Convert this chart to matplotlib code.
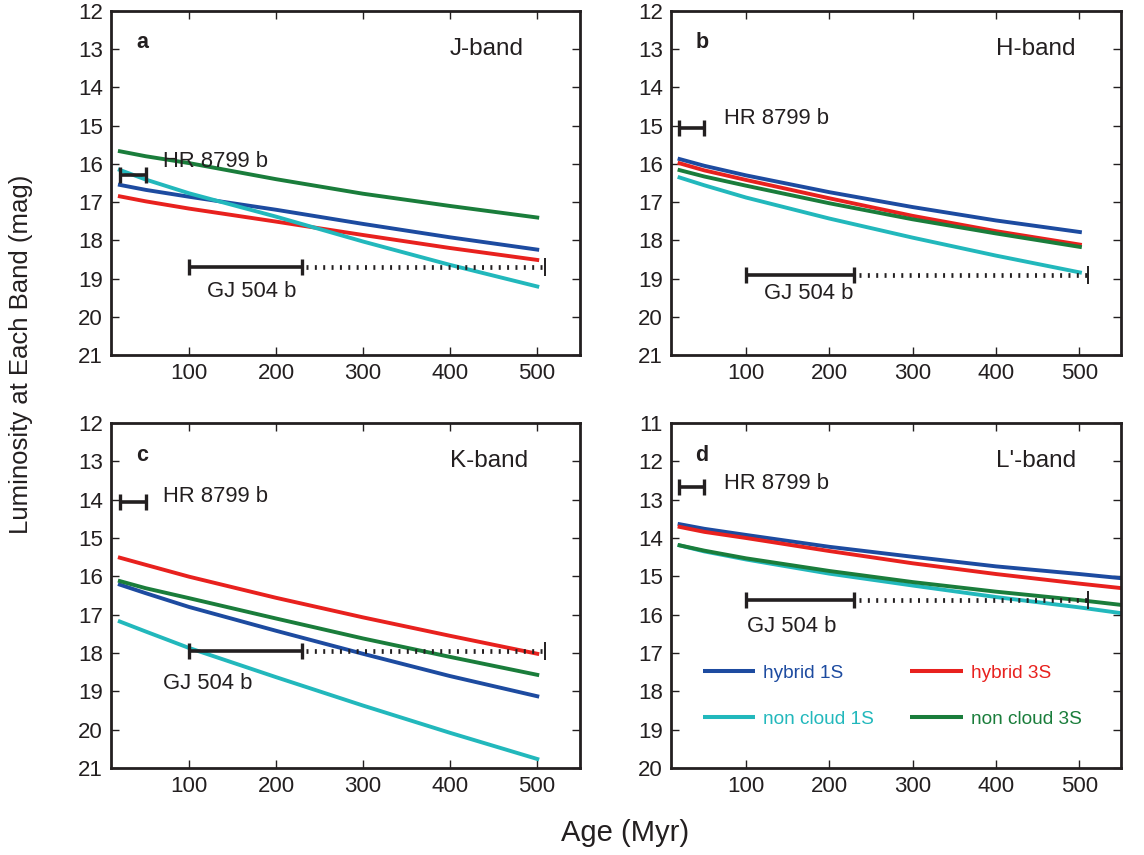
import matplotlib
matplotlib.use("Agg")
import matplotlib.pyplot as plt

plt.rcParams['font.family'] = ['Liberation Sans', 'DejaVu Sans']

# ---------------- data ----------------
ages = [18, 50, 100, 200, 300, 400, 503]
ages_d = [18, 50, 100, 200, 300, 400, 500, 560]

# J band
j_hybrid1 = [16.54, 16.68, 16.86, 17.20, 17.57, 17.92, 18.25]
j_hybrid3 = [16.84, 16.98, 17.17, 17.51, 17.86, 18.20, 18.52]
j_non1 = [16.14, 16.41, 16.77, 17.38, 18.03, 18.64, 19.22]
j_non3 = [15.66, 15.80, 15.98, 16.40, 16.78, 17.10, 17.41]
# H band
h_hybrid1 = [15.86, 16.05, 16.30, 16.74, 17.13, 17.48, 17.79]
h_hybrid3 = [15.97, 16.17, 16.42, 16.90, 17.36, 17.76, 18.12]
h_non1 = [16.34, 16.56, 16.88, 17.43, 17.93, 18.40, 18.85]
h_non3 = [16.15, 16.33, 16.57, 17.03, 17.45, 17.82, 18.18]
# K band
k_hybrid1 = [16.20, 16.44, 16.80, 17.42, 18.02, 18.60, 19.14]
k_hybrid3 = [15.50, 15.70, 16.01, 16.56, 17.07, 17.55, 18.03]
k_non1 = [17.16, 17.44, 17.87, 18.63, 19.37, 20.08, 20.78]
k_non3 = [16.11, 16.31, 16.57, 17.10, 17.62, 18.10, 18.58]
# L' band
l_hybrid1 = [13.63, 13.76, 13.92, 14.23, 14.49, 14.74, 14.94, 15.07]
l_hybrid3 = [13.70, 13.84, 14.00, 14.34, 14.66, 14.94, 15.19, 15.33]
l_non1 = [14.18, 14.35, 14.56, 14.93, 15.24, 15.54, 15.81, 15.99]
l_non3 = [14.18, 14.33, 14.53, 14.86, 15.15, 15.40, 15.62, 15.77]

# observed planets
hr_age = [20, 50]
hr_mag = [16.30, 15.05, 14.05, 12.67]
gj_age = [100, 230]
gj_age_max = 510
gj_mag = [18.69, 18.92, 17.94, 15.63]

band_names = ['J-band', 'H-band', 'K-band', "L'-band"]
panel_letters = ['a', 'b', 'c', 'd']
ylims = [(21, 12), (21, 12), (21, 12), (20, 11)]
series_labels = ['hybrid 1S', 'hybrid 3S', 'non cloud 1S', 'non cloud 3S']
series_colors = ['#1d4ba0', '#e8211e', '#22b8bc', '#1a7d3b']
xticks = [100, 200, 300, 400, 500]

# text positions (data coords)
hr_text_pos = [(70, 15.95), (73, 14.81), (70, 13.92), (73, 12.59)]
gj_text_pos = [(120, 19.33), (121, 19.39), (70, 18.79), (101, 16.31)]

panels = [
    (ages, [j_hybrid1, j_hybrid3, j_non1, j_non3]),
    (ages, [h_hybrid1, h_hybrid3, h_non1, h_non3]),
    (ages, [k_hybrid1, k_hybrid3, k_non1, k_non3]),
    (ages_d, [l_hybrid1, l_hybrid3, l_non1, l_non3]),
]

# ---------------- figure ----------------
W, H = 1144, 855
fig = plt.figure(figsize=(W / 100, H / 100), dpi=100)
rects = [
    [111 / W, 1 - 355 / H, 469 / W, 344 / H],
    [671 / W, 1 - 355 / H, 450 / W, 344 / H],
    [111 / W, 1 - 768 / H, 469 / W, 345 / H],
    [671 / W, 1 - 768 / H, 450 / W, 345 / H],
]
ink = '#231f20'

for i, (rect, (xs, ys)) in enumerate(zip(rects, panels)):
    ax = fig.add_axes(rect)
    lines = []
    for y, c, lab in zip(ys, series_colors, series_labels):
        ln, = ax.plot(xs, y, color=c, lw=2.8, label=lab, solid_capstyle='butt',
                      solid_joinstyle='round')
        lines.append(ln)

    # HR 8799 b
    ax.errorbar((hr_age[0] + hr_age[1]) / 2, hr_mag[i], xerr=(hr_age[1] - hr_age[0]) / 2,
                fmt='none', ecolor=ink, elinewidth=2.6, capsize=5.5, capthick=2.4, zorder=5)
    # GJ 504 b
    ax.errorbar((gj_age[0] + gj_age[1]) / 2, gj_mag[i], xerr=(gj_age[1] - gj_age[0]) / 2,
                fmt='none', ecolor=ink, elinewidth=2.6, capsize=6, capthick=2.4, zorder=5)
    ax.plot([gj_age[1] + 5, gj_age_max], [gj_mag[i], gj_mag[i]], color=ink, lw=3.4,
            linestyle=(0, (0.42, 1.35)), zorder=5)
    ax.plot([gj_age_max], [gj_mag[i]], marker='|', ms=13, mew=1.4, color=ink, zorder=5)

    ax.text(*hr_text_pos[i], 'HR 8799 b', fontsize=15.8, color=ink, ha='left', va='center')
    ax.text(*gj_text_pos[i], 'GJ 504 b', fontsize=15.8, color=ink, ha='left', va='center')
    ax.text(0.054, 0.907, panel_letters[i], transform=ax.transAxes, fontsize=15.5,
            fontweight='bold', color=ink, ha='left', va='center')
    ax.text(0.722, 0.89, band_names[i], transform=ax.transAxes, fontsize=17.5,
            color=ink, ha='left', va='center')

    ax.set_xlim(10, 550)
    ax.set_ylim(*ylims[i])
    ax.set_xticks(xticks)
    ax.set_yticks(range(int(ylims[i][1]), int(ylims[i][0]) + 1))
    ax.tick_params(direction='in', length=6, width=1.0, top=True, right=True,
                   labelsize=16, colors=ink, pad=6)
    for sp in ax.spines.values():
        sp.set_linewidth(2.0)
        sp.set_color(ink)

    if i == 3:
        order = [0, 2, 1, 3]
        leg = ax.legend(handles=[lines[k] for k in order], ncol=2, loc='upper left',
                        bbox_to_anchor=(0.0704, 0.300), frameon=False,
                        fontsize=13.7, labelcolor='linecolor', handlelength=2.77,
                        handletextpad=0.39, columnspacing=1.93, labelspacing=1.5,
                        borderpad=0, borderaxespad=0)
        for h in leg.legend_handles:
            h.set_linewidth(2.9)

fig.text(21 / W, 1 - 354 / H, 'Luminosity at Each Band (mag)', rotation=90,
         fontsize=18.5, color=ink, ha='center', va='center')
fig.text(625 / W, 1 - 833 / H, 'Age (Myr)', fontsize=21, color=ink,
         ha='center', va='center')

fig.savefig('out.png', dpi=100)
